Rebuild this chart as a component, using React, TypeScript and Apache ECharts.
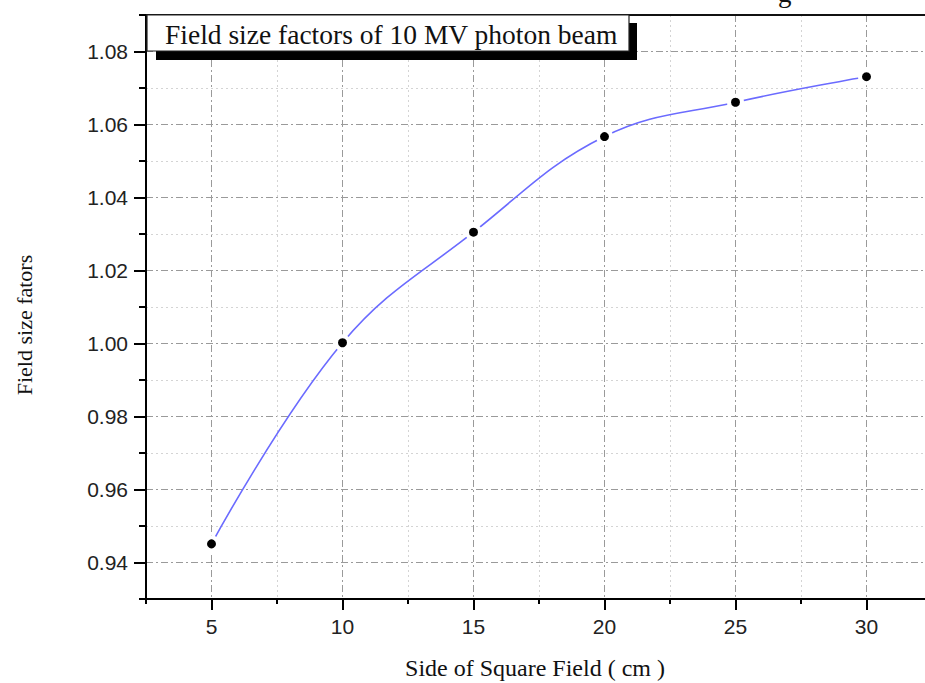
import React, { useEffect, useRef } from "react";
import * as echarts from "echarts";

const fieldSizes = [5, 10, 15, 20, 25, 30];
const factors = [0.9451, 1.0002, 1.0305, 1.0567, 1.0661, 1.0731];
const xMajorTicks = [5, 10, 15, 20, 25, 30];
const yMajorTicks = [0.94, 0.96, 0.98, 1.0, 1.02, 1.04, 1.06, 1.08];
const titleText = "Field size factors of 10 MV photon beam";
const xName = "Side of Square Field ( cm )";
const yName = "Field size fators";

const SERIF = "'Liberation Serif', 'Times New Roman', serif";
const SANS = "'Liberation Sans', Arial, sans-serif";

export default function App() {
  const ref = useRef<HTMLDivElement>(null);
  useEffect(() => {
    document.body.style.margin = "0";
    document.body.style.overflow = "hidden";
    if (!ref.current) return;
    const chart = echarts.init(ref.current, undefined, { renderer: "svg" });
    const majorSplit = { show: true, lineStyle: { color: "#9a9a9a", width: 1, type: [7, 3, 2, 3] } };
    const minorSplit = { show: true, lineStyle: { color: "#d4d4d4", width: 1, type: [2, 3] } };
    chart.setOption({
      animation: false,
      backgroundColor: "#ffffff",
      grid: {
        left: 146,
        top: 15,
        width: 786,
        height: 584,
        show: false,
        containLabel: false,
      },
      xAxis: [
        {
          type: "value",
          min: 2.5,
          max: 32.5,
          interval: 2.5,
          position: "bottom",
          axisLine: { show: true, lineStyle: { color: "#000", width: 2 } },
          axisTick: { show: true, length: 5, lineStyle: { color: "#000", width: 2 } },
          axisLabel: { show: false },
          splitLine: minorSplit,
        },
        {
          type: "value",
          min: 2.5,
          max: 32.5,
          position: "bottom",
          axisLine: { show: false },
          axisTick: { show: true, length: 11, customValues: xMajorTicks, lineStyle: { color: "#000", width: 2 } },
          axisLabel: {
            show: true,
            customValues: xMajorTicks,
            margin: 17,
            fontSize: 21,
            color: "#222",
            fontFamily: SANS,
          },
          splitLine: majorSplit,
        },
        {
          type: "value",
          min: 2.5,
          max: 32.5,
          position: "top",
          axisLine: { show: true, onZero: false, lineStyle: { color: "#111", width: 2 } },
          axisTick: { show: false },
          axisLabel: { show: false },
          splitLine: { show: false },
        },
      ],
      yAxis: [
        {
          type: "value",
          min: 0.93,
          max: 1.09,
          interval: 0.01,
          position: "left",
          axisLine: { show: true, lineStyle: { color: "#000", width: 2 } },
          axisTick: { show: true, length: 7, lineStyle: { color: "#000", width: 2 } },
          axisLabel: { show: false },
          splitLine: minorSplit,
        },
        {
          type: "value",
          min: 0.93,
          max: 1.09,
          position: "left",
          axisLine: { show: false },
          axisTick: { show: true, length: 12, customValues: yMajorTicks, lineStyle: { color: "#000", width: 2 } },
          axisLabel: {
            show: true,
            customValues: yMajorTicks,
            margin: 18,
            fontSize: 21,
            color: "#222",
            fontFamily: SANS,
            formatter: (v: number) => v.toFixed(2),
          },
          splitLine: majorSplit,
        },
      ],
      series: [
        {
          type: "line",
          xAxisIndex: 0,
          yAxisIndex: 0,
          data: fieldSizes.map((x, i) => [x, factors[i]]),
          smooth: 0.4,
          lineStyle: { color: "#6b6bff", width: 1.6 },
          symbol: "circle",
          symbolSize: 13,
          itemStyle: { color: "#000", borderColor: "#fff", borderWidth: 4 },
          z: 5,
        },
      ],
      graphic: [
        {
          type: "text",
          left: 778,
          top: -21,
          style: { text: "g", font: `27px ${SERIF}`, fill: "#111" },
        },
        {
          type: "rect",
          shape: { x: 156, y: 23, width: 481, height: 37 },
          style: { fill: "#000" },
          z: 10,
        },
        {
          type: "rect",
          shape: { x: 147, y: 15, width: 482, height: 36 },
          style: { fill: "#fff", stroke: "#222", lineWidth: 1.2 },
          z: 11,
        },
        {
          type: "text",
          x: 165,
          y: 34,
          style: {
            text: titleText,
            font: `27.5px ${SERIF}`,
            fill: "#111",
            verticalAlign: "middle",
            align: "left",
          },
          z: 12,
        },
        {
          type: "text",
          x: 535,
          y: 668,
          style: {
            text: xName,
            font: `24px ${SERIF}`,
            fill: "#111",
            align: "center",
            verticalAlign: "middle",
          },
        },
        {
          type: "text",
          x: 24,
          y: 325,
          rotation: Math.PI / 2,
          style: {
            text: yName,
            font: `22px ${SERIF}`,
            fill: "#111",
            align: "center",
            verticalAlign: "middle",
          },
        },
      ],
    });
    return () => chart.dispose();
  }, []);
  return (
    <div style={{ width: 925, height: 683, overflow: "hidden", position: "relative" }}>
      <div ref={ref} style={{ width: 945, height: 683 }} />
    </div>
  );
}
